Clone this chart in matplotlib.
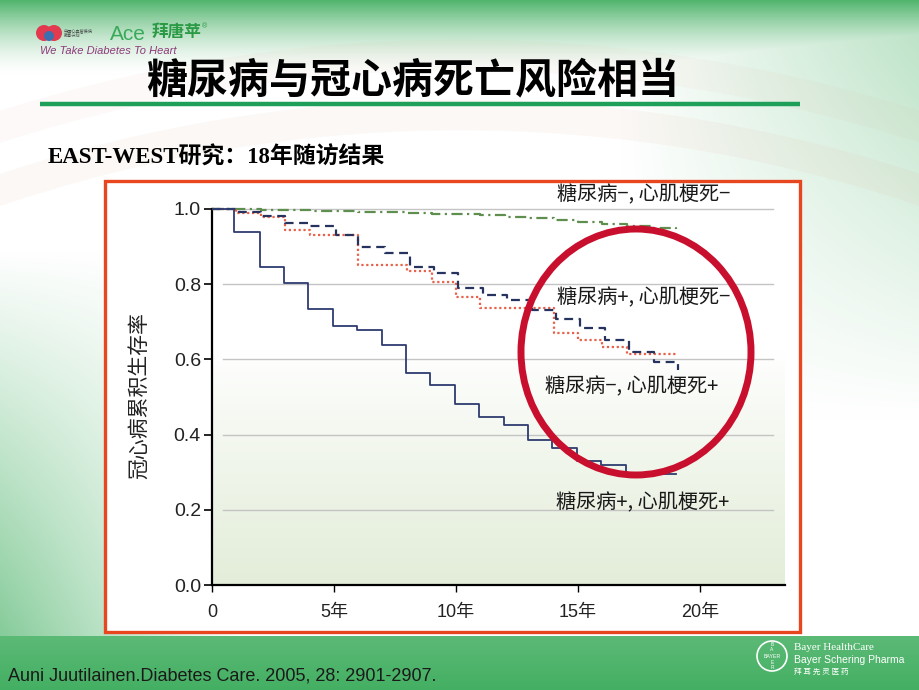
import numpy as np
import matplotlib
matplotlib.use("Agg")
import matplotlib.pyplot as plt
from matplotlib.patches import Rectangle, Ellipse, Circle, Arc

# ---------------- data ----------------
x_ticks = [0, 5, 10, 15, 20]
x_ticklabels = ["0", "5年", "10年", "15年", "20年"]
y_ticks = [0.0, 0.2, 0.4, 0.6, 0.8, 1.0]
y_ticklabels = ["0.0", "0.2", "0.4", "0.6", "0.8", "1.0"]

# 糖尿病+, 心肌梗死+ (solid)
t_dm_mi = [0, 0.9, 1.95, 2.95, 3.95, 4.95, 5.95, 6.95, 7.95, 8.95, 9.95, 10.95, 11.95, 12.95, 13.95, 14.95, 15.95, 16.95, 19.0]
s_dm_mi = [1.0, 0.94, 0.847, 0.802, 0.733, 0.69, 0.678, 0.637, 0.565, 0.533, 0.481, 0.446, 0.426, 0.386, 0.364, 0.33, 0.319, 0.294, 0.294]

# 糖尿病+, 心肌梗死- (dashed)
t_dm = [0, 1.1, 2.0, 3.0, 4.0, 5.1, 6.0, 7.1, 8.1, 9.1, 10.1, 11.1, 12.1, 13.1, 14.1, 15.1, 16.1, 17.1, 18.1, 19.1]
s_dm = [1.0, 0.993, 0.981, 0.964, 0.956, 0.931, 0.90, 0.884, 0.847, 0.831, 0.791, 0.772, 0.758, 0.731, 0.707, 0.683, 0.652, 0.62, 0.594, 0.572]

# 糖尿病-, 心肌梗死+ (dotted)
t_mi = [0, 1.0, 2.0, 3.0, 4.0, 6.0, 8.0, 9.0, 10.0, 11.0, 14.0, 15.0, 16.0, 17.0, 19.0]
s_mi = [1.0, 0.989, 0.978, 0.944, 0.931, 0.851, 0.835, 0.805, 0.767, 0.736, 0.669, 0.652, 0.634, 0.614, 0.614]

# 糖尿病-, 心肌梗死- (dash-dot)
t_none = [0, 1, 2, 3, 4, 5, 6, 7, 8, 9, 10, 11, 12, 13, 14, 15, 16, 17, 18, 19]
s_none = [1.0, 0.999, 0.998, 0.997, 0.996, 0.995, 0.993, 0.992, 0.990, 0.988, 0.986, 0.983, 0.980, 0.976, 0.971, 0.966, 0.960, 0.955, 0.950, 0.946]

labels = ["糖尿病−, 心肌梗死−", "糖尿病+, 心肌梗死−", "糖尿病−, 心肌梗死+", "糖尿病+, 心肌梗死+"]

title = "糖尿病与冠心病死亡风险相当"
subtitle = "EAST-WEST研究：18年随访结果"
ylabel = "冠心病累积生存率"
citation = "Auni Juutilainen.Diabetes Care. 2005, 28: 2901-2907."

SANS = ["Liberation Sans", "Noto Sans CJK SC", "DejaVu Sans"]
CJK = ["Noto Sans CJK SC", "DejaVu Sans"]
SERIF = ["Liberation Serif", "Noto Sans CJK SC", "DejaVu Sans"]
plt.rcParams["font.family"] = SANS

W, H = 920, 690
fig = plt.figure(figsize=(W / 100, H / 100), dpi=100)

# ---------------- slide background ----------------
bg = fig.add_axes([0, 0, 1, 1])
bg.set_xlim(0, W)
bg.set_ylim(H, 0)
bg.axis("off")
yy, xx = np.mgrid[0:H, 0:W].astype(float)
f_top = np.clip(1 - yy / 75, 0, 1) ** 1.6 * 0.85
f_right = np.clip((xx - 620) / 300, 0, 1) * 0.35 * np.clip(1 - yy / 420, 0, 1)
f_lb = np.clip((yy - 250) / 390, 0, 1) * np.clip(1 - xx / 240, 0, 1) * 0.6
f_bot = np.where(yy >= 636, 0.80 + 0.12 * (yy - 636) / 54, 0)
f = np.maximum.reduce([f_top, f_right, f_lb, f_bot])
green = np.array([0.20, 0.66, 0.33])
img = (1 - f[..., None]) * 1.0 + f[..., None] * green
bg.imshow(img, extent=[0, W, H, 0], aspect="auto", zorder=0)
# faint decorative rings
for r, a in [(1450, 0.08), (1510, 0.06)]:
    bg.add_patch(Arc((460, 1565), 2 * r, 2 * r, theta1=180, theta2=360,
                     color="#e0a88c", lw=22, alpha=a, zorder=1))

# logos (top-left)
bg.add_patch(Circle((44, 33), 8, facecolor="#e23a4e", edgecolor="none", zorder=2))
bg.add_patch(Circle((54, 33), 8, facecolor="#e23a4e", edgecolor="none", zorder=2))
bg.add_patch(Circle((49, 36), 5, facecolor="#3a6fb0", edgecolor="none", zorder=3))
bg.text(64, 33, "中国心血管疾病\n教育计划", fontsize=3, family=CJK, color="#444444",
        va="center", ha="left", zorder=3)
bg.text(110, 34, "Ace", fontsize=15, color="#3aaa5a", va="center", ha="left",
        family=["Liberation Sans"], zorder=3)
bg.text(152, 32, "拜唐苹", fontsize=12, color="#2a9a44", fontweight="bold",
        va="center", ha="left", family=CJK, zorder=3)
bg.text(202, 27, "®", fontsize=5, color="#2a9a44", va="center", ha="left", zorder=3)
bg.text(40, 51, "We Take Diabetes To Heart", fontsize=8, color="#8e3a7a",
        style="italic", va="center", ha="left", zorder=3)

# title + underline
bg.text(413, 80, title, fontsize=29.5, family=CJK, color="black", fontweight="bold",
        ha="center", va="center", zorder=3)
bg.plot([40, 800], [104, 104], color="#1fa05a", lw=3.2, solid_capstyle="butt", zorder=3)

# subtitle
bg.text(48, 158, subtitle, fontsize=16.5, family=SERIF, color="black", fontweight="bold",
        ha="left", va="center", zorder=3)

# chart frame
bg.add_patch(Rectangle((105, 181), 695, 451, facecolor="white",
                       edgecolor="#e8461e", lw=2.4, zorder=2))

# citation
bg.text(8, 676, citation, fontsize=13, color="#1a1a1a", ha="left", va="center", zorder=3)

# Bayer logo
bg.add_patch(Circle((772, 656), 15, facecolor="none", edgecolor="white", lw=1.2, zorder=3))
bg.text(772, 647, "B\nA", fontsize=3.5, color="white", ha="center", va="center",
        linespacing=0.9, zorder=3)
bg.text(772, 656, "BAYER", fontsize=3.8, color="white", ha="center", va="center", zorder=3)
bg.text(772, 665, "E\nR", fontsize=3.5, color="white", ha="center", va="center",
        linespacing=0.9, zorder=3)
bg.text(794, 647, "Bayer HealthCare", fontsize=8, family=["Liberation Serif"], color="white",
        ha="left", va="center", zorder=3)
bg.text(794, 660, "Bayer Schering Pharma", fontsize=7.5, color="white",
        ha="left", va="center", zorder=3)
bg.text(794, 672, "拜 耳 先 灵 医 药", fontsize=5.5, family=CJK, color="white",
        ha="left", va="center", zorder=3)

# ---------------- plot axes ----------------
x0, x_px, y0_px, y_px = 212, 24.4, 585, 376.0
xmax = (785 - x0) / x_px
ytop = 1.01
ax = fig.add_axes([x0 / W, (H - y0_px) / H, (785 - x0) / W, y_px * ytop / H])
ax.set_xlim(0, xmax)
ax.set_ylim(0, ytop)
ax.set_facecolor("none")

v = np.linspace(ytop, 0, 200)[:, None]
g = np.clip((0.62 - v) / 0.62, 0, 1) ** 0.9
pale = np.array([0.89, 0.93, 0.85])
grad = (1 - g[..., None]) * 1.0 + g[..., None] * pale
grad = np.repeat(grad, 2, axis=1)
ax.imshow(grad, extent=[0, xmax, 0, ytop], aspect="auto", zorder=0)

for yv in y_ticks[1:]:
    ax.plot([0.45, 23.0], [yv, yv], color="#c4c4c4", lw=1.0, zorder=1)

ax.plot(t_none, s_none, drawstyle="steps-post", color="#5e8f4e", lw=1.6,
        linestyle=(0, (5, 2, 1, 2)), zorder=3)
ax.plot(t_mi, s_mi, drawstyle="steps-post", color="#e8614a", lw=1.6,
        linestyle=(0, (1, 1.2)), zorder=3)
ax.plot(t_dm, s_dm, drawstyle="steps-post", color="#27335f", lw=1.6,
        linestyle=(0, (4, 2.5)), zorder=4)
ax.plot(t_dm_mi, s_dm_mi, drawstyle="steps-post", color="#2e3c70", lw=1.3, zorder=4)

for s in ["top", "right"]:
    ax.spines[s].set_visible(False)
ax.spines["left"].set_linewidth(1.6)
ax.spines["bottom"].set_linewidth(1.6)
ax.spines["left"].set_bounds(0, 1.0)
ax.set_xticks(x_ticks)
ax.set_xticklabels(x_ticklabels, family=SANS, fontsize=13, color="#222222")
ax.set_yticks(y_ticks)
ax.set_yticklabels(y_ticklabels, family=SANS, fontsize=14, color="#222222")
ax.tick_params(axis="y", direction="out", length=6, width=1.2, pad=2)
ax.tick_params(axis="x", direction="out", length=5, width=1.0, pad=9)
ax.set_ylabel(ylabel, family=CJK, fontsize=15, labelpad=16, color="#222222")

lab_pos = [(17.7, 1.037), (17.7, 0.763), (17.2, 0.527), (17.66, 0.218)]
for txt, (lx, ly) in zip(labels, lab_pos):
    ax.text(lx, ly, txt, family=CJK, fontsize=14.5, color="#1a1a1a",
            ha="center", va="center", clip_on=False, zorder=6)

# ---------------- overlay: red circle ----------------
ov = fig.add_axes([0, 0, 1, 1], facecolor="none")
ov.set_xlim(0, W)
ov.set_ylim(H, 0)
ov.axis("off")
ov.add_patch(Ellipse((636, 352), 230, 246, facecolor="none", edgecolor="#c8102e", lw=5))

fig.savefig("out.png", dpi=100)
